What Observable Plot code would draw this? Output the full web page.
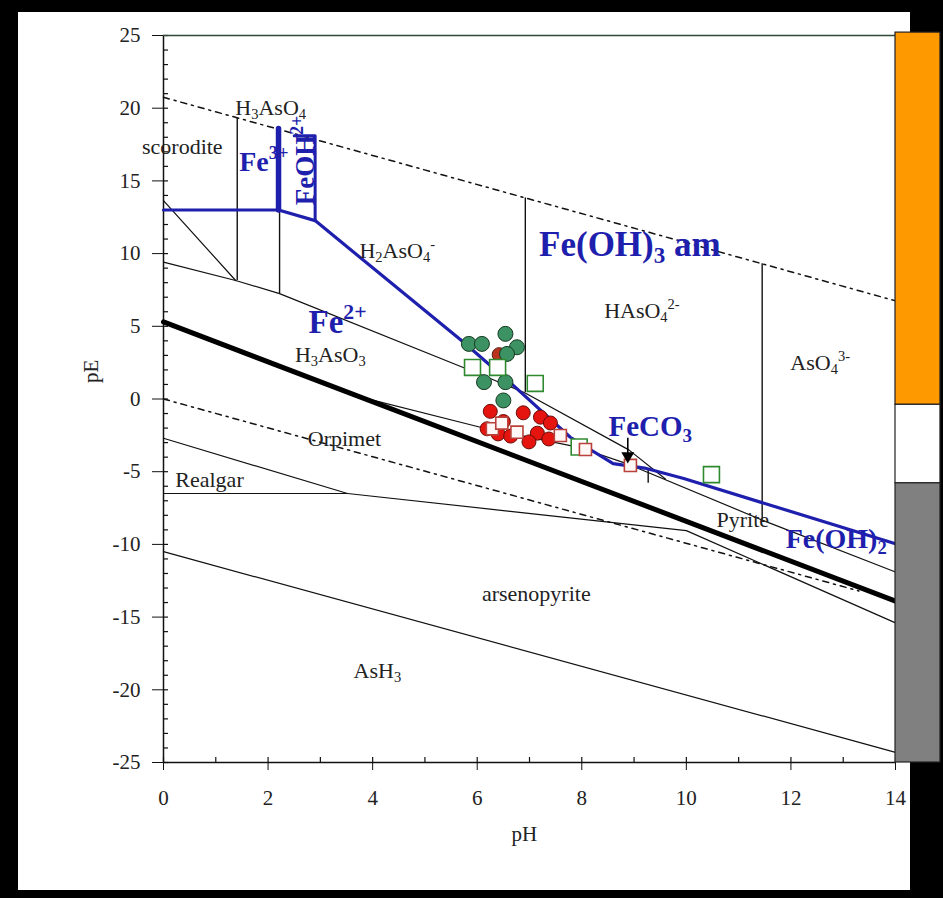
<!DOCTYPE html>
<html>
<head>
<meta charset="utf-8">
<script src="https://cdn.jsdelivr.net/npm/d3@7"></script>
<script src="https://cdn.jsdelivr.net/npm/@observablehq/plot@0.6"></script>
<style>
  html, body { margin: 0; padding: 0; background: #000; width: 943px; height: 898px; overflow: hidden; }
  #panel { position: absolute; left: 18px; top: 12px; width: 892px; height: 878px; background: #fff; }
  #chart { position: absolute; left: 0; top: 0; }
</style>
</head>
<body>
<div id="panel"></div>
<div id="chart"></div>
<script>
// pE–pH stability diagram for the Fe–As–S–H2O system with sample points.
// All boundary vertices are [pH, pE] pairs.

// Water stability limits
const waterUpper = [[0, 20.75], [14, 6.75]];
const waterLower = [[0, 0], [13.3, -13.2]];
// Sulfate / sulfide boundary (heavy line)
const sulfurBoundary = [[0, 5.3], [14, -13.9]];
// Arsenic boundaries
const scoroditeEdge = [[0, 13.65], [1.38, 8.15]];
const asRedox = [[0, 9.41], [1.38, 8.15], [2.22, 7.25], [5.78, 2.1], [6.9, 0.45], [8.9, -3.5], [9.6, -5.5]];
const pyriteUpper = [[3.7, 0.2], [6.06, -1.94], [7.97, -3.35], [8.9, -4.5], [11.5, -8.4], [14, -11.9]];
const orpimentRealgar = [[0, -2.7], [3.52, -6.5]];
const realgarBase = [[0, -6.5], [3.52, -6.5], [10.0, -9.05], [14, -15.4]];
const arsineEdge = [[0, -10.5], [14, -24.3]];
const asVerticals = [
  {pH: 1.41, top: 19.3, bottom: 8.15},
  {pH: 2.22, top: 18.5, bottom: 7.25},
  {pH: 6.92, top: 13.83, bottom: 0.45},
  {pH: 11.45, top: 9.3, bottom: -8.33},
  {pH: 9.27, top: -4.8, bottom: -5.8}
];
// Iron boundaries
const feTop = [[0, 13], [2.2, 13], [2.9, 12.27]];
const fe3Edge = [[2.2, 13], [2.2, 18.6]];
const feOHBracket = [[2.5, 18.1], [2.9, 18.1], [2.9, 12.27]];
const feOH3Edge = [[2.9, 12.27], [5.74, 3.9], [6.7, 0.9], [7.78, -2.63], [8.6, -4.44], [9.2, -4.75], [9.95, -5.47], [14, -9.95]];

// Samples
const greenDots = [[5.84, 3.79], [6.09, 3.79], [6.54, 4.48], [6.76, 3.56], [6.57, 3.1], [6.13, 1.16], [6.54, 1.16], [6.5, -0.1]];
const greenSquares = [[5.91, 2.17], [6.39, 2.17], [7.11, 1.07], [7.95, -3.3], [10.48, -5.2]];
const redDots = [[6.42, 3.05], [6.25, -0.85], [6.88, -0.95], [7.21, -1.25], [7.4, -1.65], [6.5, -1.55], [6.19, -2.05], [6.4, -2.4], [6.64, -2.55], [7.15, -2.35], [6.99, -2.95], [7.37, -2.75]];
const redSquares = [[6.29, -2.05], [6.47, -1.66], [6.76, -2.28], [7.59, -2.51], [8.07, -3.47], [8.93, -4.57]];
const feco3Arrow = [{pH: 8.88, from: -2.7, to: -3.92}];

// Redox zones bar
const zones = [
  {name: "oxic", top: 25.2, bottom: -0.4, fill: "#ff9900"},
  {name: "suboxic", top: -0.4, bottom: -5.8, fill: "#ffffff"},
  {name: "anoxic", top: -5.8, bottom: -25, fill: "#808080"}
];

// Labels (^{..} superscript, _{..} subscript)
const speciesLabels = [
  {text: "H_{3}AsO_{4}", pH: 2.05, pE: 20.0},
  {text: "scorodite", pH: 0.36, pE: 17.35},
  {text: "H_{2}AsO_{4}^{-}", pH: 4.47, pE: 10.2},
  {text: "HAsO_{4}^{2-}", pH: 9.15, pE: 6.07},
  {text: "AsO_{4}^{3-}", pH: 12.56, pE: 2.5},
  {text: "H_{3}AsO_{3}", pH: 3.19, pE: 3.0},
  {text: "Orpimet", pH: 3.46, pE: -2.75},
  {text: "Realgar", pH: 0.88, pE: -5.55},
  {text: "Pyrite", pH: 11.08, pE: -8.35},
  {text: "arsenopyrite", pH: 7.13, pE: -13.4},
  {text: "AsH_{3}", pH: 4.09, pE: -18.7}
];
const ironLabels = [
  {text: "Fe^{3+}", pH: 1.92, pE: 16.3, size: 28},
  {text: "Fe^{2+}", pH: 3.33, pE: 5.25, size: 33},
  {text: "Fe(OH)_{3} am", pH: 8.92, pE: 10.6, size: 35},
  {text: "FeCO_{3}", pH: 9.31, pE: -1.9, size: 29}
];
const ironEdgeLabels = [{text: "Fe(OH)_{2}", pH: 11.9, pE: -9.6, size: 28}];
const rotatedLabels = [{text: "FeOH^{2+}", pH: 2.72, pE: 16.4, size: 27}];

const pHTicks = d3.range(0, 15, 2);
const pETicks = d3.range(-25, 26, 5);

const serif = "'Liberation Serif', 'Times New Roman', serif";
const blue = "#1f1fae";
const ink = "#111";

const W = 943, H = 898;
const mL = 163, mR = 48, mT = 35, mB = 136;
const innerW = W - mL - mR, innerH = H - mT - mB;

const chart = Plot.plot({
  width: W,
  height: H,
  marginLeft: mL,
  marginRight: mR,
  marginTop: mT,
  marginBottom: mB,
  style: {background: "transparent", overflow: "visible", fontFamily: serif, color: ink},
  x: {domain: [0, 14]},
  y: {domain: [-25, 25]},
  color: {type: "identity"},
  marks: [
    // axes
    Plot.axisY({ticks: pETicks, tickSize: 11, tickPadding: 12, tickFormat: d => String(d), fontSize: 21, label: null, fill: "#222"}),
    Plot.tickY(d3.range(-25, 26, 1), {y: d => d, insetRight: innerW - 5, stroke: ink, strokeWidth: 1.2}),
    Plot.axisX({ticks: pHTicks, tickSize: 8, tickPadding: 20, tickFormat: d => String(d), fontSize: 21, label: null, fill: "#222"}),
    Plot.tickX(d3.range(0, 15, 1), {x: d => d, insetTop: innerH - 5, stroke: ink, strokeWidth: 1.2}),
    Plot.ruleX([0], {stroke: ink, strokeWidth: 1.5}),
    Plot.ruleY([-25], {stroke: ink, strokeWidth: 1.5}),
    Plot.ruleY([{y: 25, x1: 0, x2: 14.3}], {y: "y", x1: "x1", x2: "x2", stroke: "#2e4a36", strokeWidth: 1.5}),
    Plot.text([{t: "pE", y: 1.1}], {y: "y", text: "t", frameAnchor: "left", dx: -72, rotate: -90, fontSize: 21, fill: "#222"}),
    Plot.text([{t: "pH", x: 6.9}], {x: "x", text: "t", frameAnchor: "bottom", dy: 78, fontSize: 21, fill: "#222"}),

    // water limits
    Plot.line(waterUpper, {stroke: ink, strokeWidth: 1.5, strokeDasharray: "6,5,2,5"}),
    Plot.line(waterLower, {stroke: ink, strokeWidth: 1.5, strokeDasharray: "6,5,2,5"}),

    // arsenic and sulfur boundaries
    Plot.line(scoroditeEdge, {stroke: ink, strokeWidth: 1.2}),
    Plot.line(asRedox, {stroke: ink, strokeWidth: 1.2}),
    Plot.line(pyriteUpper, {stroke: ink, strokeWidth: 1.2}),
    Plot.line(orpimentRealgar, {stroke: ink, strokeWidth: 1.2}),
    Plot.line(realgarBase, {stroke: ink, strokeWidth: 1.2}),
    Plot.line(arsineEdge, {stroke: ink, strokeWidth: 1.2}),
    Plot.ruleX(asVerticals, {x: "pH", y1: "bottom", y2: "top", stroke: ink, strokeWidth: 1.4}),
    Plot.line(sulfurBoundary, {stroke: "#000", strokeWidth: 5}),

    // iron boundaries
    Plot.line(feTop, {stroke: blue, strokeWidth: 3.2}),
    Plot.line(fe3Edge, {stroke: blue, strokeWidth: 5.5}),
    Plot.line(feOHBracket, {stroke: blue, strokeWidth: 3}),
    Plot.line(feOH3Edge, {stroke: blue, strokeWidth: 3.2}),

    // samples
    Plot.dot(redDots.slice(0, 1), {r: 7, fill: "#b8321e", stroke: "#5a1a10", strokeWidth: 1}),
    Plot.dot(greenDots, {r: 7.5, fill: "#3c9262", stroke: "#173a22", strokeWidth: 1}),
    Plot.dot(greenSquares, {symbol: "square", r: 9, fill: "#ffffff", stroke: "#2f8a2f", strokeWidth: 1.6}),
    Plot.dot(redDots.slice(1), {r: 7, fill: "#e5140e", stroke: "#6a0d0a", strokeWidth: 1}),
    Plot.dot(redSquares, {symbol: "square", r: 6.8, fill: "#fff6f6", stroke: "#b9413a", strokeWidth: 1.6}),

    // FeCO3 pointer
    Plot.ruleX(feco3Arrow, {x: "pH", y1: "from", y2: "to", stroke: "#000", strokeWidth: 1.6}),
    Plot.dot(feco3Arrow, {x: "pH", y: "to", symbol: "triangle", rotate: 180, r: 4.8, fill: "#000"}),

    // labels
    Plot.text(speciesLabels, {x: "pH", y: "pE", text: "text", fontSize: 22, fill: "#222", fontFamily: serif}),
    Plot.text(ironLabels, {x: "pH", y: "pE", text: "text", fontSize: d => d.size, fill: blue, fontWeight: "bold", fontFamily: serif}),
    Plot.text(ironEdgeLabels, {x: "pH", y: "pE", text: "text", fontSize: d => d.size, textAnchor: "start", fill: blue, fontWeight: "bold", fontFamily: serif}),
    Plot.text(rotatedLabels, {x: "pH", y: "pE", text: "text", rotate: -90, fontSize: d => d.size, fill: blue, fontWeight: "bold", fontFamily: serif}),

    // redox zone bar
    Plot.rect(zones, {x1: 14, x2: 14.86, y1: "bottom", y2: "top", fill: "fill", stroke: "#222", strokeWidth: 1.2})
  ]
});

document.getElementById("chart").appendChild(chart);

// Turn ^{..} / _{..} markup into raised / lowered tspans.
const scriptRe = /(\^|_)\{([^}]*)\}/g;
chart.querySelectorAll("text").forEach(node => {
  const src = node.textContent;
  if (!/(\^|_)\{/.test(src)) return;
  const size = parseFloat(getComputedStyle(node).fontSize) || 22;
  const parts = [];
  let last = 0, m;
  scriptRe.lastIndex = 0;
  while ((m = scriptRe.exec(src))) {
    if (m.index > last) parts.push({t: src.slice(last, m.index), kind: "base"});
    parts.push({t: m[2], kind: m[1] === "^" ? "sup" : "sub"});
    last = scriptRe.lastIndex;
  }
  if (last < src.length) parts.push({t: src.slice(last), kind: "base"});
  while (node.firstChild) node.removeChild(node.firstChild);
  for (const p of parts) {
    const ts = document.createElementNS("http://www.w3.org/2000/svg", "tspan");
    ts.textContent = p.t;
    if (p.kind !== "base") {
      ts.setAttribute("font-size", (size * 0.66).toFixed(1));
      ts.setAttribute("baseline-shift", p.kind === "sup" ? (size * 0.42).toFixed(1) : (-size * 0.2).toFixed(1));
    }
    node.appendChild(ts);
  }
});
</script>
</body>
</html>
